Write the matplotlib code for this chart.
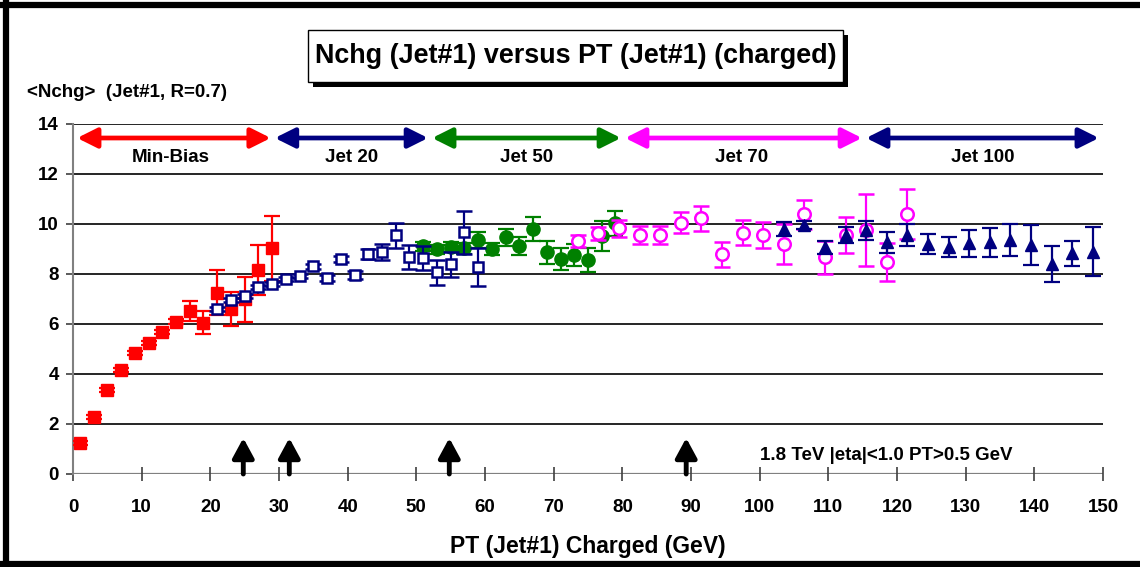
import matplotlib
matplotlib.use("Agg")
import matplotlib.pyplot as plt
from matplotlib.patches import Rectangle
from matplotlib.lines import Line2D

plt.rcParams['font.family'] = ['Liberation Sans', 'DejaVu Sans']

# ---- data ----
mb_x = [1, 3, 5, 7, 9, 11, 13, 15, 17, 19, 21, 23, 25, 27, 29]
mb_y = [1.23, 2.29, 3.36, 4.16, 4.83, 5.25, 5.69, 6.09, 6.52, 6.05, 7.25, 6.60, 6.99, 8.16, 9.03]
mb_e = [0.08, 0.08, 0.08, 0.08, 0.08, 0.08, 0.08, 0.10, 0.39, 0.46, 0.90, 0.68, 0.89, 0.99, 1.31]

j20_x = [21, 23, 25, 27, 29, 31, 33, 35, 37, 39, 41, 43, 45, 47, 49, 51, 53, 55, 57, 59]
j20_y = [6.60, 6.96, 7.13, 7.49, 7.61, 7.80, 7.92, 8.32, 7.83, 8.60, 7.96, 8.79, 8.88, 9.56, 8.68, 8.63, 8.07, 8.40, 9.67, 8.27]
j20_e = [0.08, 0.08, 0.08, 0.08, 0.08, 0.08, 0.08, 0.10, 0.12, 0.13, 0.15, 0.20, 0.33, 0.50, 0.48, 0.48, 0.50, 0.50, 0.87, 0.76]

j50_x = [51, 53, 55, 57, 59, 61, 63, 65, 67, 69, 71, 73, 75, 77, 79]
j50_y = [9.12, 8.99, 9.07, 9.03, 9.36, 9.00, 9.47, 9.12, 9.80, 8.87, 8.61, 8.76, 8.56, 9.53, 10.03]
j50_e = [0.18, 0.18, 0.20, 0.22, 0.31, 0.25, 0.33, 0.36, 0.47, 0.47, 0.45, 0.45, 0.48, 0.60, 0.50]

j70_x = [73.5, 76.5, 79.5, 82.5, 85.5, 88.5, 91.5, 94.5, 97.5, 100.5, 103.5, 106.5, 109.5, 112.5, 115.5, 118.5, 121.5]
j70_y = [9.32, 9.63, 9.83, 9.56, 9.56, 10.05, 10.23, 8.79, 9.65, 9.56, 9.19, 10.39, 8.67, 9.56, 9.76, 8.49, 10.40]
j70_e = [0.23, 0.27, 0.33, 0.36, 0.36, 0.43, 0.49, 0.49, 0.50, 0.53, 0.80, 0.57, 0.65, 0.71, 1.43, 0.77, 1.01]

j100_x = [103.5, 106.5, 109.5, 112.5, 115.5, 118.5, 121.5, 124.5, 127.5, 130.5, 133.5, 136.5, 139.5, 142.5, 145.5, 148.5]
j100_y = [9.80, 9.96, 9.07, 9.56, 9.76, 9.27, 9.56, 9.20, 9.09, 9.23, 9.27, 9.36, 9.16, 8.40, 8.83, 8.90]
j100_e = [0.28, 0.18, 0.27, 0.33, 0.38, 0.41, 0.43, 0.40, 0.40, 0.53, 0.59, 0.64, 0.79, 0.73, 0.49, 0.97]

regions = ["Min-Bias", "Jet 20", "Jet 50", "Jet 70", "Jet 100"]
region_lo = [0.6, 29.4, 52.3, 80.4, 115.5]
region_hi = [28.8, 51.7, 79.8, 114.9, 149.4]
region_lab_x = [14.3, 40.6, 66.0, 97.3, 132.5]
region_col = ["#FF0000", "#000080", "#008000", "#FF00FF", "#000080"]

marker_arrows = [24.8, 31.5, 54.8, 89.3]

xticks = list(range(0, 151, 10))
yticks = list(range(0, 15, 2))

# ---- figure ----
W, H = 1140, 567
fig = plt.figure(figsize=(W / 100, H / 100), dpi=100)
ax = fig.add_axes([73 / W, 1 - 474 / H, (1103 - 73) / W, (474 - 124) / H])
ax.set_xlim(0, 150)
ax.set_ylim(0, 14)

for y in yticks[1:]:
    ax.axhline(y, color='black', lw=1.2, zorder=1)
ax.axhline(0, color='#808080', lw=1.6, zorder=1)

for s in ['top', 'right', 'bottom']:
    ax.spines[s].set_visible(False)
ax.spines['left'].set_color('#808080')
ax.spines['left'].set_linewidth(1.5)

ax.set_xticks(xticks)
ax.set_yticks(yticks)
ax.tick_params(axis='x', direction='inout', length=10, width=1.2, color='#404040', pad=13)
ax.tick_params(axis='y', direction='out', length=5, width=1.2, color='#404040', pad=5)
for lab in ax.get_xticklabels() + ax.get_yticklabels():
    lab.set_fontweight('bold')
    lab.set_fontsize(13.5)

ekw = dict(ls='none', capsize=5.5, elinewidth=1.6, capthick=1.6)
ax.errorbar(mb_x, mb_y, yerr=mb_e, fmt='s', color='#FF0000', ms=8, mec='#FF0000', zorder=3, **ekw)
ax.errorbar(j50_x, j50_y, yerr=j50_e, fmt='o', color='#008000', ms=9.5, zorder=4, **ekw)
ax.errorbar(j20_x, j20_y, yerr=j20_e, fmt='s', color='#000080', ms=7, mfc='white', mew=1.8, zorder=5, **ekw)
ax.errorbar(j70_x, j70_y, yerr=j70_e, fmt='o', color='#FF00FF', ms=9, mfc='white', mew=1.8, zorder=6, **ekw)
ax.errorbar(j100_x, j100_y, yerr=j100_e, fmt='^', color='#000080', ms=8, zorder=7, **ekw)

for name, lo, hi, lx, c in zip(regions, region_lo, region_hi, region_lab_x, region_col):
    ax.annotate('', xy=(hi, 13.44), xytext=(lo, 13.44),
                arrowprops=dict(arrowstyle='<|-|>,head_length=1.2,head_width=0.6',
                                color=c, lw=3.4, shrinkA=0, shrinkB=0), zorder=8)
    ax.text(lx, 12.68, name, ha='center', va='center', fontsize=13.5, fontweight='bold')

for xa in marker_arrows:
    ax.annotate('', xy=(xa, 1.44), xytext=(xa, 0.0),
                arrowprops=dict(arrowstyle='-|>,head_length=1.2,head_width=0.65',
                                color='black', lw=3.5, shrinkA=0, shrinkB=0), zorder=8)

ax.text(118.4, 0.72, "1.8 TeV |eta|<1.0 PT>0.5 GeV", ha='center', va='center',
        fontsize=13.5, fontweight='bold')

# axis labels
fig.text(588 / W, 1 - 546 / H, "PT (Jet#1) Charged (GeV)", ha='center', va='center',
         fontsize=16.5, fontweight='bold')
fig.text(27 / W, 1 - 93 / H, "<Nchg>  (Jet#1, R=0.7)", ha='left', va='center',
         fontsize=13.5, fontweight='bold')

# title box with shadow
bx0, by0, bx1, by1 = 308, 30, 843, 82
fig.patches.append(Rectangle(((bx0 + 5) / W, 1 - (by1 + 5) / H), (bx1 - bx0) / W, (by1 - by0) / H,
                             transform=fig.transFigure, facecolor='black', edgecolor='none', zorder=1))
fig.patches.append(Rectangle((bx0 / W, 1 - by1 / H), (bx1 - bx0) / W, (by1 - by0) / H,
                             transform=fig.transFigure, facecolor='white', edgecolor='black', lw=1, zorder=2))
fig.text((bx0 + bx1) / 2 / W, 1 - (by0 + by1) / 2 / H, "Nchg (Jet#1) versus PT (Jet#1) (charged)",
         ha='center', va='center', fontsize=19.4, fontweight='bold', zorder=3)

# outer frame (left, top, bottom)
fig.add_artist(Line2D([5.5 / W, 5.5 / W], [0, 1], transform=fig.transFigure, color='black', lw=4.5))
fig.add_artist(Line2D([0, 1], [1 - 5 / H, 1 - 5 / H], transform=fig.transFigure, color='black', lw=4.5))
fig.add_artist(Line2D([0, 1], [3 / H, 3 / H], transform=fig.transFigure, color='black', lw=4.5))

fig.savefig("out.png", dpi=100)
